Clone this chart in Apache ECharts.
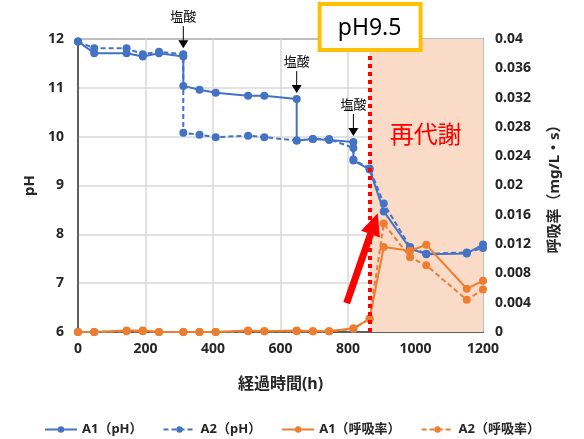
<!DOCTYPE html>
<html>
<head>
<meta charset="utf-8">
<script src="https://cdn.jsdelivr.net/npm/echarts@6/dist/echarts.min.js"></script>
<style>
  html, body { margin: 0; padding: 0; background: #fff; }
  #chart { width: 584px; height: 439px; }
</style>
</head>
<body>
<div id="chart"></div>
<script>
// pH, A1 / A2 (same hour listed twice where HCl was added)
const hoursA1 = [0, 48, 144, 192, 240, 312, 312, 360, 408, 504, 552, 648, 648, 696, 744, 816, 816, 864, 906, 984, 1032, 1152, 1200];
const phA1 = [11.95, 11.71, 11.71, 11.64, 11.71, 11.64, 11.04, 10.96, 10.9, 10.84, 10.84, 10.77, 9.92, 9.95, 9.93, 9.89, 9.51, 9.33, 8.47, 7.71, 7.59, 7.61, 7.79];
const hoursA2 = [0, 48, 144, 192, 240, 312, 312, 360, 408, 504, 552, 648, 696, 744, 816, 816, 864, 906, 984, 1032, 1152, 1200];
const phA2 = [11.95, 11.81, 11.81, 11.69, 11.74, 11.69, 10.08, 10.04, 9.99, 10.02, 9.99, 9.92, 9.95, 9.95, 9.77, 9.53, 9.35, 8.63, 7.74, 7.6, 7.63, 7.72];

// respiration rate (mg/L・s)
const hoursResp = [0, 48, 144, 192, 240, 312, 360, 408, 504, 552, 648, 696, 744, 816, 864, 906, 984, 1032, 1152, 1200];
const respA1 = [0, 0, 0.0002, 0.0002, 0, 0, 0, 0, 0.0002, 0.0001, 0.0002, 0.0001, 0.0001, 0.0005, 0.0018, 0.0116, 0.0111, 0.0119, 0.0059, 0.0070];
const respA2 = [0, 0, 0.0001, 0.0001, 0, 0, 0, 0, 0.0001, 0.0001, 0.0001, 0.0001, 0.0001, 0.0004, 0.0018, 0.0148, 0.0102, 0.0091, 0.0044, 0.0058];

const legendNames = ['A1（pH）', 'A2（pH）', 'A1（呼吸率）', 'A2（呼吸率）'];
const hclPoints = [[312, 11.69], [648, 10.77], [816, 9.89]];
const remetabStart = 864;

const BLUE = '#4472C4';
const ORANGE = '#ED7D31';
const FONT = 'Noto Sans, Noto Sans CJK JP, sans-serif';

const zip = (xs, ys) => xs.map((x, i) => [x, ys[i]]);

const chart = echarts.init(document.getElementById('chart'));

const lineSeries = (name, data, color, dashed, yIdx) => ({
    name: name,
    type: 'line',
    yAxisIndex: yIdx,
    data: data,
    symbol: 'circle',
    symbolSize: 8,
    itemStyle: { color: color },
    lineStyle: { color: color, width: 2, type: dashed ? [5, 3] : 'solid' },
    animation: false
});

const option = {
    animation: false,
    grid: {
        left: 78, top: 39, width: 405, height: 293,
        show: true, borderColor: '#404040', borderWidth: 1.5
    },
    legend: {
        data: legendNames,
        bottom: -2,
        left: 'center',
        itemWidth: 32,
        itemHeight: 8,
        itemGap: 20,
        textStyle: { fontFamily: FONT, fontWeight: 'bold', fontSize: 13, color: '#262626' }
    },
    xAxis: {
        type: 'value',
        min: 0, max: 1200, interval: 200,
        name: '経過時間(h)',
        nameLocation: 'middle',
        nameGap: 44,
        nameTextStyle: { fontFamily: FONT, fontWeight: 'bold', fontSize: 16, color: '#262626' },
        axisLine: { lineStyle: { color: '#404040', width: 1.5 } },
        axisTick: { show: false },
        axisLabel: {
            fontFamily: FONT, fontWeight: 'bold', fontSize: 14, color: '#262626', margin: 10,
            formatter: v => String(v)
        },
        splitLine: { lineStyle: { color: '#D9D9D9', width: 1.5 } }
    },
    yAxis: [{
        type: 'value',
        min: 6, max: 12, interval: 1,
        name: 'pH',
        nameLocation: 'middle',
        nameRotate: 90,
        nameGap: 36,
        nameTextStyle: { fontFamily: FONT, fontWeight: 'bold', fontSize: 15, color: '#262626' },
        axisLine: { show: true, lineStyle: { color: '#404040', width: 1.5 } },
        axisTick: { show: false },
        axisLabel: { fontFamily: FONT, fontWeight: 'bold', fontSize: 14, color: '#262626', margin: 14 },
        splitLine: { lineStyle: { color: '#D9D9D9', width: 1.5 } }
    }, {
        type: 'value',
        min: 0, max: 0.04, interval: 0.004,
        position: 'right',
        name: '呼吸率（mg/L・s）',
        nameLocation: 'middle',
        nameRotate: 90,
        nameGap: 64,
        nameTextStyle: { fontFamily: FONT, fontWeight: 'bold', fontSize: 15, color: '#262626' },
        axisLine: { show: false },
        axisTick: { show: false },
        axisLabel: {
            fontFamily: FONT, fontWeight: 'bold', fontSize: 14, color: '#262626', margin: 12,
            formatter: v => String(+v.toFixed(3))
        },
        splitLine: { show: false }
    }],
    series: [
        Object.assign(lineSeries(legendNames[0], zip(hoursA1, phA1), BLUE, false, 0), {
            markArea: {
                silent: true,
                itemStyle: { color: '#FADBC8' },
                data: [[{ xAxis: remetabStart }, { xAxis: 1200 }]]
            },
            markLine: {
                silent: true,
                symbol: 'none',
                label: { show: false },
                lineStyle: { color: '#FF0000', type: [4, 4], width: 4 },
                data: [{ xAxis: remetabStart }]
            },
            z: 2
        }),
        lineSeries(legendNames[1], zip(hoursA2, phA2), BLUE, true, 0),
        lineSeries(legendNames[2], zip(hoursResp, respA1), ORANGE, false, 1),
        lineSeries(legendNames[3], zip(hoursResp, respA2), ORANGE, true, 1)
    ]
};

chart.setOption(option);

// annotations placed from data coordinates
const px = (p) => chart.convertToPixel({ xAxisIndex: 0, yAxisIndex: 0 }, p);
const graphics = [];

hclPoints.forEach(p => {
    const [x, y] = px(p);
    const y1 = y - 28, y2 = y - 6;
    graphics.push({
        type: 'line', z: 100,
        shape: { x1: x, y1: y1, x2: x, y2: y2 - 6 },
        style: { stroke: '#000', lineWidth: 1 }
    });
    graphics.push({
        type: 'polygon', z: 100,
        shape: { points: [[x - 5, y2 - 8], [x + 5, y2 - 8], [x, y2]] },
        style: { fill: '#000' }
    });
    graphics.push({
        type: 'text', z: 100,
        x: x, y: y1 - 10,
        style: { text: '塩酸', font: '13px Noto Sans CJK JP', fill: '#000', align: 'center', verticalAlign: 'middle' }
    });
});

// red arrow pointing at the jump
const [tx, ty] = px([796, 6.59]);
const [hx, hy] = px([888, 8.43]);
const len = Math.hypot(hx - tx, hy - ty);
const ux = (hx - tx) / len, uy = (hy - ty) / len;
const headLen = 22, headW = 10;
const bx = hx - ux * headLen, by = hy - uy * headLen;
graphics.push({
    type: 'line', z: 100,
    shape: { x1: tx, y1: ty, x2: bx, y2: by },
    style: { stroke: '#FF0000', lineWidth: 7 }
});
graphics.push({
    type: 'polygon', z: 100,
    shape: { points: [[hx, hy], [bx - uy * headW, by + ux * headW], [bx + uy * headW, by - ux * headW]] },
    style: { fill: '#FF0000' }
});

// 再代謝 label in shaded region
const [rx, ry] = px([1030, 10.05]);
graphics.push({
    type: 'text', z: 100,
    x: rx, y: ry,
    style: { text: '再代謝', font: '24px Noto Sans CJK JP', fill: '#FF0000', align: 'center', verticalAlign: 'middle' }
});

// pH9.5 box
const [bxc] = px([remetabStart, 12]);
graphics.push({
    type: 'rect', z: 110,
    shape: { x: bxc - 50, y: 4, width: 101, height: 46 },
    style: { fill: '#fff', stroke: '#FFC000', lineWidth: 4 }
});
graphics.push({
    type: 'text', z: 111,
    x: bxc, y: 28,
    style: { text: 'pH9.5', font: '23px Noto Sans', fill: '#000', align: 'center', verticalAlign: 'middle' }
});

chart.setOption({ graphic: graphics });
</script>
</body>
</html>
